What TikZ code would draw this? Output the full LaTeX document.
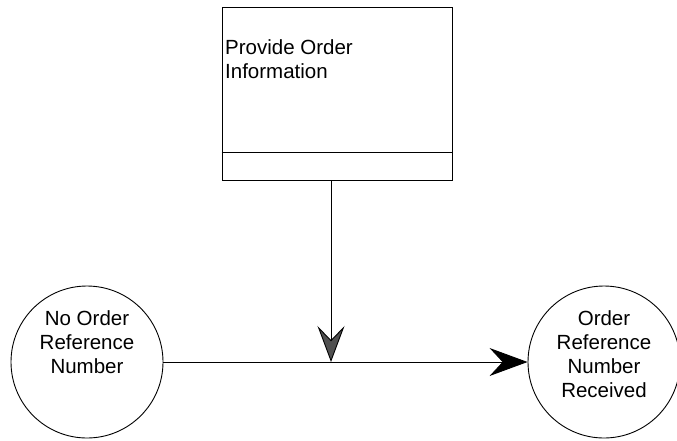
\documentclass[tikz,border=0pt]{standalone}
\usepackage{fontspec}
\setmainfont{Liberation Sans}
\usetikzlibrary{arrows.meta}
\definecolor{headgrey}{RGB}{80,80,80}
\begin{document}
\begin{tikzpicture}[x=1pt,y=-1pt,
  every node/.style={font=\fontsize{20.5}{24}\selectfont},
  line/.style={draw=black,line width=0.9pt},
  statecircle/.style={circle,line,minimum size=152pt,inner sep=0pt},
  caption/.style={anchor=north,align=center,inner sep=0pt},
  procbox/.style={rectangle,line,minimum width=230pt,minimum height=173pt,inner sep=0pt},
  flow/.style={line,-{Stealth[length=38pt,width=28pt,inset=13pt,fill=black]}},
  trigger/.style={line,-{Stealth[length=36pt,width=27pt,inset=14pt,fill=headgrey]}}]
\useasboundingbox (0,0) rectangle (677,440);

% activity box with its lower compartment
\node[procbox] (proc) at (337,93.5) {};
\draw[line] ([yshift=28pt]proc.south west) coordinate (divl) -- ([yshift=28pt]proc.south east) coordinate (divr);
\node[anchor=north west,align=left,inner sep=0pt] (proctext) at (225,39) {Provide Order\\Information};

% states
\node[statecircle] (src) at (87,362) {};
\node[caption] (srctext) at (87,310) {No Order\\Reference\\Number};
\node[statecircle] (dst) at (604,362) {};
\node[caption] (dsttext) at (604,310) {Order\\Reference\\Number\\Received};

% transition and its trigger
\draw[flow] (src.east) -- (dst.west);
\coordinate (out) at ([xshift=-6pt]proc.south);
\coordinate (join) at (out |- src.east);
\draw[trigger] (out) -- (join);
\end{tikzpicture}
\end{document}
